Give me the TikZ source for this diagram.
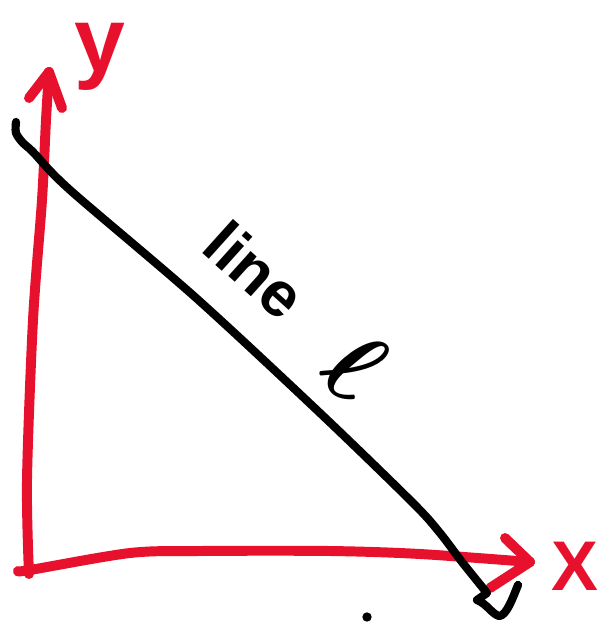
\documentclass[tikz,border=0pt]{standalone}
\usepackage{fix-cm}
\usepackage{fontspec}
\setmainfont{Liberation Sans}
\definecolor{penred}{HTML}{E8112D}

\begin{document}
\begin{tikzpicture}[x=0.03cm, y=-0.03cm,
  axispen/.style={penred, line width=8.5pt, line cap=round, line join=round},
  linepen/.style={black, line width=7pt, line cap=round, line join=round},
  every node/.style={inner sep=0pt}]
  \useasboundingbox (0,0) rectangle (605,626);

  % Axes, drawn by hand (a little wobbly)
  \coordinate (ytip) at (49,72);
  \coordinate (xtip) at (530,562);
  \draw[axispen] plot[smooth, tension=0.5] coordinates {(29,574) (27,480) (33,320) (42,200) (46,120) (49,72)};
  \draw[axispen] (ytip) -- ++(-20,26);
  \draw[axispen] (ytip) -- ++(13,36);
  \draw[axispen] plot[smooth, tension=0.5] coordinates {(18,571) (30,570) (130,553) (200,551) (330,551) (420,554) (530,562)};
  \draw[axispen] (xtip) -- ++(-25,-24);
  \draw[axispen] (xtip) -- ++(-40,26);
  \node[penred, font=\fontsize{78}{78}\selectfont\bfseries] (ylabel) at (100,57) {y};
  \node[penred, font=\fontsize{60}{60}\selectfont\bfseries] (xlabel) at (575,566) {X};

  % The line itself, with its little hook at the end
  \draw[linepen] plot[smooth, tension=0.5] coordinates {(16,122) (16,133) (23,143) (33,152) (70,190) (195,297) (320,413) (413,503) (440,533) (462,562) (487,593)}
    -- (477,600) .. controls (487,604) and (492,614) .. (499,616) .. controls (506,616) and (512,600) .. (518,585);
  \node[rotate=-42, font=\fontsize{54}{54}\selectfont\bfseries] (linename) at (255,270) {line};
  \node[rotate=-36, font=\fontsize{86}{86}\selectfont\boldmath] (ellname) at (354,365) {$\ell$};

  % stray dot below the x axis
  \fill (367,617) circle[radius=4pt];
\end{tikzpicture}
\end{document}
